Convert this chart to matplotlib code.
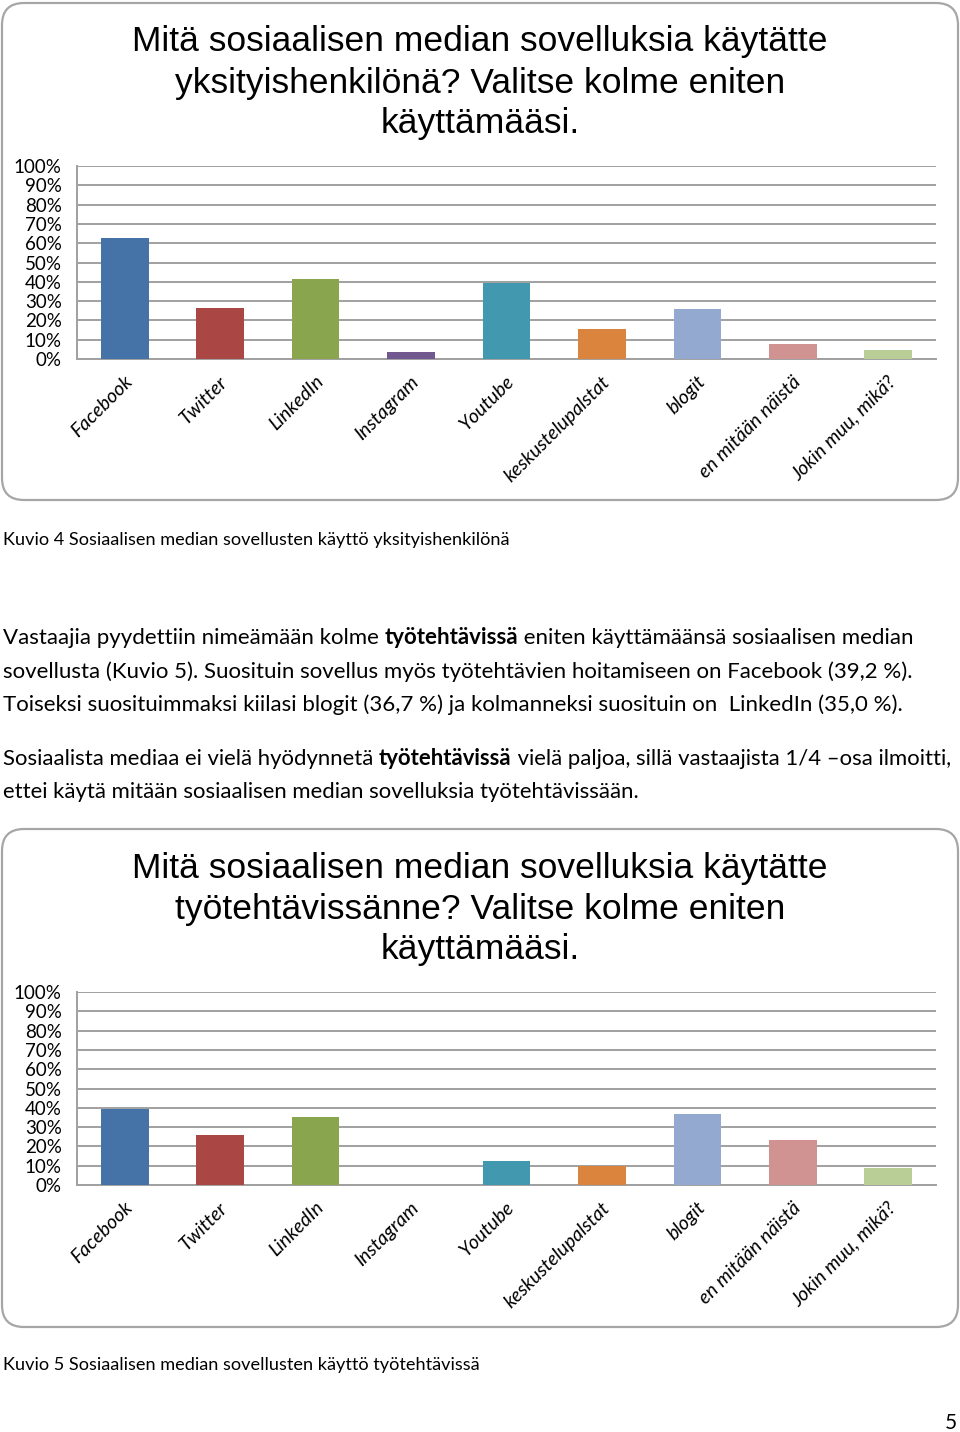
import matplotlib
matplotlib.use("Agg")
import matplotlib.pyplot as plt
from matplotlib.patches import FancyBboxPatch
from matplotlib.ticker import PercentFormatter
import matplotlib.transforms as mtransforms

# --- data -------------------------------------------------------------
categories = ["Facebook", "Twitter", "LinkedIn", "Instagram", "Youtube",
              "keskustelupalstat", "blogit", "en mitään näistä", "Jokin muu, mikä?"]
privateUse = [62.5, 26.6, 41.6, 3.4, 39.2, 15.7, 25.7, 7.6, 4.8]
workUse    = [39.2, 25.8, 35.0, 0.0, 12.5, 10.0, 36.7, 23.2, 9.0]
yTicks     = [0, 10, 20, 30, 40, 50, 60, 70, 80, 90, 100]

barColors = ["#4572A7", "#AA4643", "#89A54E", "#71588F", "#4198AF",
             "#DB843D", "#93A9CF", "#D19392", "#B9CD96"]

title1 = ["Mitä sosiaalisen median sovelluksia käytätte",
          "yksityishenkilönä? Valitse kolme eniten",
          "käyttämääsi."]
title2 = ["Mitä sosiaalisen median sovelluksia käytätte",
          "työtehtävissänne? Valitse kolme eniten",
          "käyttämääsi."]

caption1 = "Kuvio 4 Sosiaalisen median sovellusten käyttö yksityishenkilönä"
caption2 = "Kuvio 5 Sosiaalisen median sovellusten käyttö työtehtävissä"

paragraph1 = [
    [("Vastaajia pyydettiin nimeämään kolme ", False), ("työtehtävissä", True),
     (" eniten käyttämäänsä sosiaalisen median", False)],
    [("sovellusta (Kuvio 5). Suosituin sovellus myös työtehtävien hoitamiseen on Facebook (39,2 %).", False)],
    [("Toiseksi suosituimmaksi kiilasi blogit (36,7 %) ja kolmanneksi suosituin on  LinkedIn (35,0 %).", False)],
]
paragraph2 = [
    [("Sosiaalista mediaa ei vielä hyödynnetä ", False), ("työtehtävissä", True),
     (" vielä paljoa, sillä vastaajista 1/4 \u2013osa ilmoitti,", False)],
    [("ettei käytä mitään sosiaalisen median sovelluksia työtehtävissään.", False)],
]

# --- layout -----------------------------------------------------------
W, H = 960, 1432
BODY_FONT = "Lato"
TITLE_FONT = "Liberation Sans"
BODY_SIZE = 16

figure = plt.figure(figsize=(W / 100, H / 100), dpi=100)
figure.patch.set_facecolor("white")
renderer = figure.canvas.get_renderer()


def px(x, y):
    return x / W, 1 - y / H


def DrawBox(top, bottom):
    box = FancyBboxPatch((2 / 100, (H - bottom) / 100), 956 / 100, (bottom - top) / 100,
                         boxstyle="round,pad=0,rounding_size=0.22",
                         transform=figure.dpi_scale_trans, facecolor="none",
                         edgecolor="#A6A6A6", linewidth=1.6, zorder=5)
    figure.patches.append(box)


def DrawChart(axTop, values, titleLines, titleTop):
    for i, line in enumerate(titleLines):
        figure.text(*px(480, titleTop + i * 41), line, ha="center", va="center",
                    fontsize=25.5, family=TITLE_FONT, color="black")

    left, right, bottom = 77, 936, axTop + 193
    axes = figure.add_axes([left / W, 1 - bottom / H, (right - left) / W, 193 / H])
    x = list(range(len(categories)))
    axes.bar(x, values, width=0.5, color=barColors, zorder=3)
    axes.set_xlim(-0.5, len(categories) - 0.5)
    axes.set_ylim(0, 100)
    axes.set_yticks(yTicks)
    axes.yaxis.set_major_formatter(PercentFormatter(decimals=0))
    axes.grid(axis="y", color="#A0A0A0", linewidth=1.4, zorder=0)
    axes.set_axisbelow(True)
    for side in ["top", "right"]:
        axes.spines[side].set_visible(False)
    for side in ["left", "bottom"]:
        axes.spines[side].set_color("#A0A0A0")
        axes.spines[side].set_linewidth(1.4)
    axes.tick_params(axis="both", length=0)
    axes.tick_params(axis="y", pad=11, labelsize=13.5)
    for label in axes.get_yticklabels():
        label.set_family(BODY_FONT)

    axes.set_xticks(x)
    axes.set_xticklabels(categories, rotation=45, ha="right", va="top",
                         rotation_mode="anchor", fontsize=14, style="italic",
                         family=BODY_FONT)
    axes.tick_params(axis="x", pad=10)
    offset = mtransforms.ScaledTranslation(-1 / 100, 0, figure.dpi_scale_trans)
    for label in axes.get_xticklabels():
        label.set_transform(label.get_transform() + offset)
    return axes


def DrawParagraph(xPix, yPix, lines, spacing, fontsize=BODY_SIZE):
    for i, segments in enumerate(lines):
        xCursor = xPix
        for text, bold in segments:
            weight = "bold" if bold else "normal"
            item = figure.text(*px(xCursor, yPix + i * spacing), text, ha="left",
                               va="baseline", fontsize=fontsize, family=BODY_FONT,
                               fontweight=weight)
            xCursor += item.get_window_extent(renderer).width


DrawBox(3, 500)
DrawBox(829, 1327)

DrawChart(166, privateUse, title1, 42)
DrawChart(992, workUse, title2, 868)

figure.text(*px(3, 540), caption1, ha="left", va="center", fontsize=13.1, family=BODY_FONT)
figure.text(*px(3, 1365), caption2, ha="left", va="center", fontsize=13.1, family=BODY_FONT)

DrawParagraph(3, 644, paragraph1, 33.5)
DrawParagraph(3, 765, paragraph2, 33.5, fontsize=15.9)

figure.text(*px(957, 1423), "5", ha="right", va="center", fontsize=15, family=BODY_FONT)

figure.savefig("out.png", dpi=100, facecolor="white")
